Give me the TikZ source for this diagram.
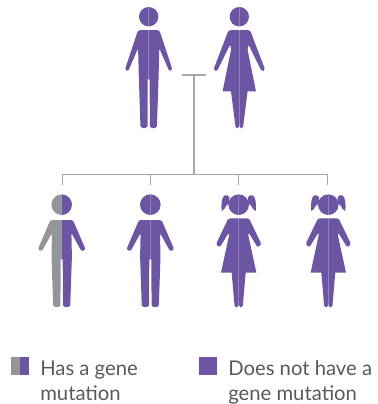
\documentclass[tikz,border=0pt]{standalone}
\usepackage{fontspec}
\setmainfont{Lato}
\definecolor{genepurple}{RGB}{108,86,163}
\definecolor{genegrey}{RGB}{147,149,152}
\definecolor{seamlilac}{RGB}{150,132,190}
\definecolor{linegrey}{RGB}{167,169,172}
\definecolor{textgrey}{RGB}{88,89,91}

\begin{document}
\begin{tikzpicture}[
  x=0.75pt, y=-0.75pt,
  seam/.style={seamlilac, line width=0.4pt},
  branch/.style={linegrey, line width=0.85pt},
  swatch/.style={rectangle, inner sep=0pt, minimum width=6.75pt, minimum height=13.5pt},
  swatchwide/.style={rectangle, inner sep=0pt, minimum width=13.5pt, minimum height=13.5pt, fill=genepurple},
  keytext/.style={anchor=base west, inner sep=0pt, align=left, font=\fontsize{15.2}{18.4}\selectfont, text=textgrey},
  pics/man/.style={code={
    \foreach \s in {-1,1} {
      \fill[genepurple, xscale=\s] (0,-9.7) arc[start angle=-90, end angle=90, radius=9.7];
      \fill[genepurple, xscale=\s] (0,13.3) [rounded corners=1.4pt] -- (10.6,13.3) -- (23.9,53.4)
        -- (20.7,54.8) -- (10.6,31.6) -- (9.9,60) -- (8.2,111.3) -- (1.1,111.3) [sharp corners]
        -- (1,62.6) -- (0,62.6) -- cycle;
    }
    \draw[seam] (0,-9.7) -- (0,9.7) (0,13.3) -- (0,62.6);
  }},
  pics/woman/.style={code={
    \foreach \s in {-1,1} {
      \fill[genepurple, xscale=\s] (0,-9.7) arc[start angle=-90, end angle=90, radius=9.7];
      \fill[genepurple, xscale=\s] (0,13.3) [rounded corners=1.4pt] -- (10.7,13.3) -- (26,53.4)
        -- (22.6,55) -- (9,27.6) [sharp corners] -- (8.3,33.3) -- (16.7,74.6) -- (8.3,74.6)
        [rounded corners=1.2pt] -- (3.6,111.6) -- (0.4,111.6) [sharp corners] -- (0,105) -- cycle;
    }
    \draw[seam] (0,-9.7) -- (0,9.7) (0,13.3) -- (0,105);
  }},
  pics/boy/.style={code={
    \foreach \s/\c in {-1/#1,1/genepurple} {
      \fill[\c, xscale=\s] (0,-10.3) arc[start angle=-90, end angle=90, radius=10.3];
      \fill[\c, xscale=\s] (0,15.3) [rounded corners=1.6pt] -- (11.3,15.3) -- (24,45)
        -- (19.8,46.6) -- (9.7,28.3) -- (10.2,52) -- (8.5,102.2) -- (1.3,102.2) [sharp corners]
        -- (1,54.6) -- (0,54.6) -- cycle;
    }
  }},
  pics/girl/.style={code={
    \foreach \s in {-1,1} {
      \fill[genepurple, xscale=\s] (0,-10.3) arc[start angle=-90, end angle=90, radius=10.3];
      \fill[genepurple, xscale=\s] (9.2,-7.4) .. controls (10,-9.4) and (12.5,-9.9) .. (14,-9.4)
        .. controls (17,-8) and (17.8,0) .. (17,6.4)
        .. controls (14.5,5.5) and (13.6,3) .. (12.8,1.5)
        .. controls (12,0) and (10.8,-0.5) .. (9.6,-1.5) -- cycle;
      \fill[genepurple, xscale=\s] (0,13.6) [rounded corners=1.6pt] -- (10.3,13.6) -- (22.8,39.6)
        -- (19,42.8) -- (9.7,27.6) [sharp corners] -- (9.7,31) -- (17.7,68) -- (7,68)
        [rounded corners=1.2pt] -- (4,102.6) -- (0.4,102.6) [sharp corners] -- (0,97) -- cycle;
    }
    \draw[seam] (0,-10.3) -- (0,10.3) (0,13.6) -- (0,97);
  }}
]
  \useasboundingbox (0,0) rectangle (378,404);

  % Parents
  \pic at (148.7,16.7) {man};
  \pic at (239.3,16.7) {woman};

  % Children
  \pic at (61.7,204.7) {boy=genegrey};
  \pic at (150.3,204.7) {boy=genepurple};
  \draw[seam] (150.3,194.4) -- (150.3,215) (150.3,220) -- (150.3,259.3);
  \pic at (238.7,204.7) {girl};
  \pic at (328.3,204.7) {girl};

  % Branch points
  \coordinate (coupleleft) at (182.3,75);
  \coordinate (coupleright) at (206,75);
  \coordinate (couplemid) at (194,75);
  \coordinate (sibmid) at (194,174.7);
  \coordinate (sibone) at (62.3,174.7);
  \coordinate (sibtwo) at (150.7,174.7);
  \coordinate (sibthree) at (238.7,174.7);
  \coordinate (sibfour) at (327.7,174.7);
  \coordinate (childone) at (62.3,184.7);
  \coordinate (childtwo) at (150.7,184.7);
  \coordinate (childthree) at (238.7,184.7);
  \coordinate (childfour) at (327.7,184.7);

  % Edges
  \draw[branch] (coupleleft) -- (coupleright);
  \draw[branch] (couplemid) -- (sibmid);
  \draw[branch] (childone) -- (sibone) -- (sibfour) -- (childfour);
  \draw[branch] (sibtwo) -- (childtwo);
  \draw[branch] (sibthree) -- (childthree);

  % Legend
  \node[swatch, fill=genegrey] (keygrey) at (15.5,366) {};
  \node[swatch, fill=genepurple] (keypurple) at (24.5,366) {};
  \node[swatchwide] (keyplain) at (208,366) {};
  \node[keytext] (keyhas) at (40,400) {Has a gene\\mutation};
  \node[keytext] (keynot) at (228,400) {Does not have a\\gene mutation};
\end{tikzpicture}
\end{document}
